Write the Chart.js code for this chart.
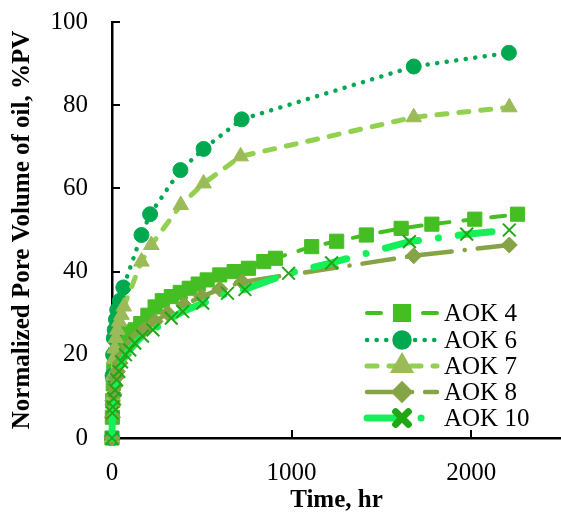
<!DOCTYPE html>
<html>
<head>
<meta charset="utf-8">
<script src="https://cdn.jsdelivr.net/npm/chart.js@4.4.1/dist/chart.umd.min.js"></script>
<style>
  html, body { margin: 0; padding: 0; background: #fff; }
</style>
</head>
<body>
<canvas id="myChart" width="561" height="524"></canvas>
<script>
// Time (hr) and normalized pore volume of oil (%PV) for each core
const timeAok4 = [0, 2, 4, 7, 10, 15, 20, 30, 45, 60, 80, 100, 130, 160, 200, 240, 280, 330, 380, 430, 480, 530, 600, 680, 760, 845, 910, 1112, 1251, 1416, 1610, 1781, 2020, 2258];
const pvAok4 = [0, 5, 9, 13, 16, 18.5, 20, 22, 23.5, 24.5, 25.5, 24.5, 26, 27.5, 29.5, 31.5, 33, 34, 35, 36, 37, 38, 39.2, 40, 40.8, 42.4, 43.2, 46, 47.3, 48.8, 50.4, 51.4, 52.6, 53.8];

const timeAok6 = [0, 3, 6, 10, 15, 22, 29, 44, 63, 164, 212, 381, 510, 722, 1680, 2210];
const pvAok6 = [0, 15, 20, 24, 26, 28.5, 30.8, 33, 36.2, 48.8, 53.8, 64.4, 69.5, 76.6, 89.3, 92.6];

const timeAok7 = [0, 3, 6, 10, 15, 22, 30, 40, 53, 66, 164, 219, 383, 510, 716, 1680, 2212];
const pvAok7 = [0, 10, 15, 19, 21.5, 24, 26, 28, 29.6, 31.6, 42.4, 46.4, 56, 61.2, 67.7, 77.1, 79.5];

const timeAok8 = [0, 3, 6, 10, 15, 22, 30, 45, 65, 95, 130, 180, 240, 310, 400, 500, 600, 725, 1680, 2212];
const pvAok8 = [0, 5, 8, 10.5, 12.5, 14.5, 16, 18, 20, 22, 24, 26, 28, 30, 32, 34, 35.8, 37.5, 43.8, 46.4];

const timeAok10 = [0, 2, 5, 10, 17, 26, 38, 53, 75, 99, 127, 170, 228, 330, 394, 505, 643, 740, 983, 1223, 1656, 1975, 2212];
const pvAok10 = [0, 6, 7.5, 9.5, 11.5, 14, 16, 18.3, 20, 21.2, 22.8, 24.5, 26, 28.8, 30.4, 32.4, 34.8, 35.7, 39.6, 42.1, 47.2, 49, 50];

const seriesNames = ['AOK 4', 'AOK 6', 'AOK 7', 'AOK 8', 'AOK 10'];
const xTickValues = [0, 1000, 2000];
const yTickValues = [0, 20, 40, 60, 80, 100];

const FONT = "'Liberation Serif', 'Times New Roman', serif";
Chart.defaults.font.family = FONT;
Chart.defaults.color = '#000';

function toPoints(xs, ys) {
    return xs.map((x, i) => ({ x: x, y: ys[i] }));
}

// Inward tick marks on both axes
const innerTicks = {
    id: 'innerTicks',
    beforeDatasetsDraw(chart) {
        const ctx = chart.ctx;
        const xs = chart.scales.x, ys = chart.scales.y;
        const area = chart.chartArea;
        ctx.save();
        ctx.strokeStyle = '#000';
        ctx.lineWidth = 2;
        xTickValues.forEach(v => {
            const px = Math.round(xs.getPixelForValue(v));
            ctx.beginPath();
            ctx.moveTo(px, area.bottom);
            ctx.lineTo(px, area.bottom - 8);
            ctx.stroke();
        });
        yTickValues.forEach(v => {
            const py = Math.round(ys.getPixelForValue(v));
            ctx.beginPath();
            ctx.moveTo(area.left, py);
            ctx.lineTo(area.left + 8, py);
            ctx.stroke();
        });
        ctx.restore();
    }
};

// Legend with a line sample and the marker in its middle
const lineLegend = {
    id: 'lineLegend',
    afterDraw(chart) {
        const ctx = chart.ctx;
        const x0 = 367, x1 = 437, textX = 444;
        const rowY = [313, 340, 366, 392, 418];
        chart.data.datasets.forEach((ds, i) => {
            const y = rowY[i];
            ctx.save();
            ctx.strokeStyle = ds.borderColor;
            ctx.lineWidth = ds.borderWidth;
            ctx.lineCap = ds.borderCapStyle || 'butt';
            ctx.setLineDash(ds.borderDash || []);
            ctx.beginPath();
            ctx.moveTo(x0, y);
            ctx.lineTo(x1, y);
            ctx.stroke();
            ctx.setLineDash([]);
            ctx.fillStyle = ds.pointBackgroundColor;
            ctx.strokeStyle = ds.pointBorderColor;
            Chart.helpers.drawPoint(ctx, {
                pointStyle: ds.pointStyle,
                radius: ds.pointRadius,
                borderWidth: ds.pointBorderWidth,
                rotation: 0
            }, (x0 + x1) / 2, y);
            ctx.fillStyle = '#000';
            ctx.font = '25px ' + FONT;
            ctx.textBaseline = 'middle';
            ctx.textAlign = 'left';
            ctx.fillText(ds.label, textX, y + 1);
            ctx.restore();
        });
    }
};

const ctx = document.getElementById('myChart').getContext('2d');
const myChart = new Chart(ctx, {
    type: 'scatter',
    data: {
        datasets: [{
            label: seriesNames[0],
            data: toPoints(timeAok4, pvAok4),
            showLine: true,
            borderColor: '#45BE24',
            borderWidth: 4,
            borderDash: [14, 14],
            borderCapStyle: 'round',
            pointStyle: 'rect',
            pointRadius: 10,
            pointBackgroundColor: '#45BE24',
            pointBorderColor: '#45BE24',
            pointBorderWidth: 1,
            order: 5
        }, {
            label: seriesNames[1],
            data: toPoints(timeAok6, pvAok6),
            showLine: true,
            borderColor: '#00A850',
            borderWidth: 4.5,
            borderDash: [0.1, 9.5],
            borderCapStyle: 'round',
            pointStyle: 'circle',
            pointRadius: 7.5,
            pointBackgroundColor: '#00A850',
            pointBorderColor: '#00A850',
            pointBorderWidth: 1,
            order: 4
        }, {
            label: seriesNames[2],
            data: toPoints(timeAok7, pvAok7),
            showLine: true,
            borderColor: '#92D050',
            borderWidth: 5,
            borderDash: [10, 12],
            borderCapStyle: 'round',
            pointStyle: 'triangle',
            pointRadius: 9,
            pointBackgroundColor: '#9BBB59',
            pointBorderColor: '#9BBB59',
            pointBorderWidth: 1,
            order: 3
        }, {
            label: seriesNames[3],
            data: toPoints(timeAok8, pvAok8),
            showLine: true,
            borderColor: '#86A345',
            borderWidth: 4.5,
            borderDash: [32, 13, 0.1, 13],
            borderCapStyle: 'round',
            pointStyle: 'rectRot',
            pointRadius: 8,
            pointBackgroundColor: '#86A345',
            pointBorderColor: '#86A345',
            pointBorderWidth: 1,
            order: 2
        }, {
            label: seriesNames[4],
            data: toPoints(timeAok10, pvAok10),
            showLine: true,
            borderColor: '#14F05A',
            borderWidth: 7,
            borderDash: [34, 20, 0.1, 20],
            borderCapStyle: 'round',
            pointStyle: 'crossRot',
            pointRadius: 9,
            pointBackgroundColor: '#20A814',
            pointBorderColor: '#20A814',
            pointBorderWidth: 2,
            order: 1
        }]
    },
    options: {
        responsive: false,
        animation: false,
        layout: { autoPadding: false, padding: { top: 22, right: -3, bottom: 0, left: 0 } },
        elements: { line: { tension: 0 } },
        datasets: { scatter: { clip: false } },
        plugins: {
            legend: { display: false },
            tooltip: { enabled: false }
        },
        scales: {
            x: {
                type: 'linear',
                min: 0,
                max: 2500,
                afterBuildTicks: s => { s.ticks = xTickValues.map(v => ({ value: v })); },
                afterFit: s => { s.height = 86; s.paddingLeft = 0; s.paddingRight = 0; },
                grid: { display: false, drawTicks: false, tickLength: 0 },
                border: { display: true, color: '#000', width: 2.5 },
                ticks: { font: { size: 25 }, padding: 20, maxRotation: 0, callback: v => String(v) },
                title: {
                    display: true,
                    text: 'Time, hr',
                    font: { size: 25, weight: 'bold' },
                    padding: { top: 0, bottom: 8 }
                }
            },
            y: {
                type: 'linear',
                min: 0,
                max: 100,
                afterBuildTicks: s => { s.ticks = yTickValues.map(v => ({ value: v })); },
                afterFit: s => { s.width = 112; s.paddingTop = 0; s.paddingBottom = 0; },
                grid: { display: false, drawTicks: false, tickLength: 0 },
                border: { display: true, color: '#000', width: 2.5 },
                ticks: { font: { size: 25 }, padding: 24, callback: v => String(v) },
                title: {
                    display: true,
                    text: 'Normalized Pore Volume of oil, %PV',
                    font: { size: 25, weight: 'bold' },
                    padding: { top: 8, bottom: 0 }
                }
            }
        }
    },
    plugins: [innerTicks, lineLegend]
});
</script>
</body>
</html>
